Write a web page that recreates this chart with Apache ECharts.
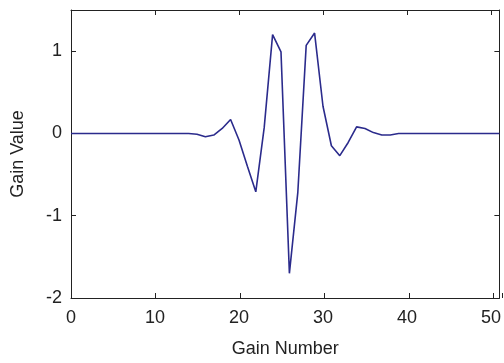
<!DOCTYPE html>
<html>
<head>
<meta charset="utf-8">
<script src="https://cdn.jsdelivr.net/npm/echarts@6/dist/echarts.min.js"></script>
<style>
  html, body { margin: 0; padding: 0; background: #fff; }
  #chart { width: 504px; height: 363px; }
</style>
</head>
<body>
<div id="chart"></div>
<script>
// gain numbers 0..51
const gainNumbers = [
  0, 1, 2, 3, 4, 5, 6, 7, 8, 9,
  10, 11, 12, 13, 14, 15, 16, 17, 18, 19,
  20, 21, 22, 23, 24, 25, 26, 27, 28, 29,
  30, 31, 32, 33, 34, 35, 36, 37, 38, 39,
  40, 41, 42, 43, 44, 45, 46, 47, 48, 49,
  50, 51
];
// gain values
const gainValues = [
  0, 0, 0, 0, 0, 0, 0, 0, 0, 0,
  0, 0, 0, 0, 0, -0.01, -0.04, -0.02, 0.06, 0.17,
  -0.08, -0.4, -0.71, 0.07, 1.2, 0.99, -1.7, -0.72, 1.07, 1.22,
  0.33, -0.15, -0.27, -0.11, 0.08, 0.06, 0.01, -0.02, -0.02, 0,
  0, 0, 0, 0, 0, 0, 0, 0, 0, 0,
  0, 0
];

let myChart = echarts.init(document.getElementById('chart'));

const textColor = '#222';
const font = 'Liberation Sans, Arial, sans-serif';
const tickLen = 5;

// axes that only exist to draw the inward ticks of the frame
function hiddenAxis(gridIndex) {
  return { type: 'value', gridIndex: gridIndex, show: false, min: 0, max: 1 };
}
function tickStripX(gridIndex) {
  return {
    type: 'value', gridIndex: gridIndex, min: 0, max: 51, interval: 10,
    axisLine: { show: false }, axisTick: { show: false }, axisLabel: { show: false },
    splitLine: { show: true, lineStyle: { color: '#222', width: 1 } }
  };
}
function tickStripY(gridIndex) {
  return {
    type: 'value', gridIndex: gridIndex, min: -2, max: 1.5, interval: 1,
    axisLine: { show: false }, axisTick: { show: false }, axisLabel: { show: false },
    splitLine: { show: true, lineStyle: { color: '#222', width: 1 } }
  };
}

myChart.setOption({
  backgroundColor: '#fff',
  animation: false,
  grid: [
    { left: 71, right: 2, top: 10, bottom: 65 },
    // thin strip along the bottom edge for x ticks
    { left: 71, right: 2, top: 363 - 65 - tickLen, height: tickLen },
    // thin strip along the left edge for y ticks
    { left: 71, width: tickLen, top: 10, bottom: 65 }
  ],
  xAxis: [
    {
      type: 'value',
      gridIndex: 0,
      position: 'bottom',
      min: 0,
      max: 51,
      interval: 10,
      name: 'Gain Number',
      nameLocation: 'middle',
      nameGap: 42,
      nameTextStyle: { color: textColor, fontSize: 18, fontFamily: font },
      axisLine: { show: true, onZero: false, lineStyle: { color: '#222', width: 1 } },
      axisTick: { show: false },
      axisLabel: {
        color: textColor, fontSize: 18, fontFamily: font, margin: 11,
        showMaxLabel: false
      },
      splitLine: { show: false }
    },
    {
      type: 'value',
      gridIndex: 0,
      position: 'top',
      min: 0,
      max: 51,
      interval: 10,
      axisLine: { show: true, onZero: false, lineStyle: { color: '#222', width: 1 } },
      axisTick: { show: true, inside: true, length: tickLen, lineStyle: { color: '#222', width: 1 } },
      axisLabel: { show: false },
      splitLine: { show: false }
    },
    tickStripX(1),
    hiddenAxis(2)
  ],
  yAxis: [
    {
      type: 'value',
      gridIndex: 0,
      position: 'left',
      min: -2,
      max: 1.5,
      interval: 1,
      name: 'Gain Value',
      nameLocation: 'middle',
      nameGap: 44,
      nameTextStyle: { color: textColor, fontSize: 18, fontFamily: font },
      axisLine: { show: true, onZero: false, lineStyle: { color: '#222', width: 1 } },
      axisTick: { show: false },
      axisLabel: {
        color: textColor, fontSize: 18, fontFamily: font, margin: 9,
        showMaxLabel: false
      },
      splitLine: { show: false }
    },
    {
      type: 'value',
      gridIndex: 0,
      position: 'right',
      min: -2,
      max: 1.5,
      interval: 1,
      axisLine: { show: true, onZero: false, lineStyle: { color: '#222', width: 1 } },
      axisTick: { show: true, inside: true, length: tickLen, lineStyle: { color: '#222', width: 1 } },
      axisLabel: { show: false },
      splitLine: { show: false }
    },
    hiddenAxis(1),
    tickStripY(2)
  ],
  series: [
    {
      name: 'gain',
      type: 'line',
      xAxisIndex: 0,
      yAxisIndex: 0,
      showSymbol: false,
      lineStyle: { color: '#2b2b8c', width: 1.6 },
      data: gainNumbers.map((x, i) => [x, gainValues[i]])
    }
  ]
});
</script>
</body>
</html>
